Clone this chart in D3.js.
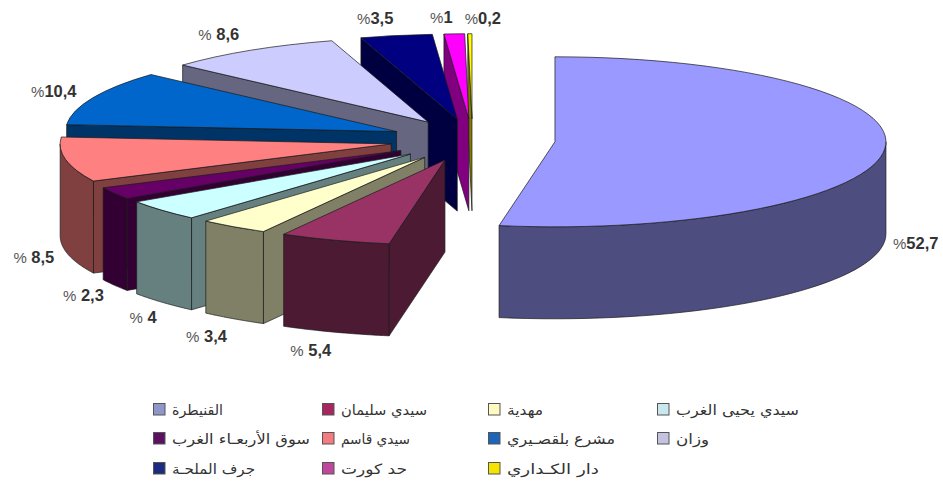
<!DOCTYPE html>
<html>
<head>
<meta charset="utf-8">
<script src="https://cdn.jsdelivr.net/npm/d3@7"></script>
<style>
  html, body { margin: 0; padding: 0; background: #fff; overflow: hidden; }
  svg { display: block; }
  .pct { font: bold 16.5px "Liberation Sans", Arial, sans-serif; fill: #333; text-anchor: middle; direction: ltr; }
  .pct .sign { font-size: 15px; font-weight: normal; fill: #555; }
  .leg { font: 14px "DejaVu Sans", "Noto Sans", sans-serif; fill: #333; text-anchor: start; }
</style>
</head>
<body>
<svg width="943" height="482"></svg>
<script>
// values, clockwise from 12 o'clock
const names = ["القنيطرة", "سيدي سليمان", "مهدية", "سيدي يحيى الغرب", "سوق الأربعـاء الغرب", "سيدي قاسم", "مشرع بلقصـيري", "وزان", "جرف الملحـة", "حد كورت", "دار الكـداري"];
const values = [52.7, 5.4, 3.4, 4, 2.3, 8.5, 10.4, 8.6, 3.5, 1, 0.2];
const labels = ["52,7", " 5,4", " 3,4", " 4", " 2,3", " 8,5", "10,4", " 8,6", "3,5", "1", "0,2"];
const colors = ["#9999ff", "#993366", "#ffffcc", "#ccffff", "#660066", "#ff8080", "#0066cc", "#ccccff", "#000080", "#ff00ff", "#ffff00"];
const legendColors = ["#8f97c9", "#a8265f", "#fffbc0", "#c8e8ee", "#5b1060", "#f47c80", "#1d65b8", "#c4c2e0", "#1c2a80", "#c0489c", "#f5e400"];

// label nudges away from the exploded rim
const nudges = [[31, 95], [-24, 111], [-27, 110], [-19, 108], [-31, 103], [-32, 98], [-39, -6], [-32, -15], [-21, -17], [-13, -16], [13, -15]];
// drawn width of each legend text
const legendWidths = [51, 86, 36, 123, 138, 69, 108, 33, 83, 66, 92];

const cx = 472.5, cy = 140;
const rx = 331, ry = 85;
const depth = 92;
const explode = 0.25;

const svg = d3.select("svg");

const pie = d3.pie().sort(null).startAngle(0).endAngle(2 * Math.PI);
const slices = pie(values);
const arc = d3.arc().innerRadius(0).outerRadius(rx);
const line = d3.line();

slices.forEach((d) => {
  d.mid = (d.startAngle + d.endAngle) / 2;
  d.ox = cx + explode * rx * Math.sin(d.mid);
  d.oy = cy - explode * ry * Math.cos(d.mid);
});

const rim = (d, a) => [d.ox + rx * Math.sin(a), d.oy - ry * Math.cos(a)];
const drop = (p) => [p[0], p[1] + depth];

function sideWall(d, a) {
  const apex = [d.ox, d.oy];
  const p = rim(d, a);
  return line([apex, p, drop(p), drop(apex)]) + "Z";
}

function outerWall(d) {
  const a0 = Math.max(d.startAngle, Math.PI / 2);
  const a1 = Math.min(d.endAngle, Math.PI * 1.5);
  if (a1 <= a0) return null;
  const pts = d3.range(0, 41).map((i) => rim(d, a0 + (a1 - a0) * i / 40));
  return line(pts.concat(pts.map(drop).reverse())) + "Z";
}

// back slices first, the last ones of the pie are behind
const g = svg.selectAll("g.slice")
  .data(slices.slice().reverse())
  .enter()
  .append("g")
  .attr("class", "slice");

g.each(function(d) {
  const el = d3.select(this);
  const dark = d3.color(colors[d.index]);
  const shade = d3.rgb(dark.r / 2, dark.g / 2, dark.b / 2).formatHex();
  const paths = [];
  if (d.startAngle > Math.PI) paths.push(sideWall(d, d.startAngle));
  if (d.endAngle < Math.PI) paths.push(sideWall(d, d.endAngle));
  const o = outerWall(d);
  if (o) paths.push(o);
  paths.forEach((p) => {
    el.append("path")
      .attr("d", p)
      .attr("fill", shade)
      .attr("stroke", "#1a1a1a")
      .attr("stroke-width", 0.7)
      .attr("stroke-linejoin", "round");
  });
  el.append("path")
    .attr("d", arc(d))
    .attr("transform", `translate(${d.ox},${d.oy}) scale(1,${ry / rx})`)
    .attr("fill", colors[d.index])
    .attr("stroke", "#1a1a1a")
    .attr("stroke-width", 0.7)
    .attr("vector-effect", "non-scaling-stroke")
    .attr("stroke-linejoin", "round");
});

// percent labels
const pct = svg.selectAll("text.pct")
  .data(slices)
  .enter()
  .append("text")
  .attr("class", "pct")
  .attr("xml:space", "preserve")
  .style("white-space", "pre")
  .attr("x", (d, i) => cx + (1 + explode) * rx * Math.sin(d.mid) + nudges[i][0])
  .attr("y", (d, i) => cy - (1 + explode) * ry * Math.cos(d.mid) + nudges[i][1] + 5);
pct.append("tspan").attr("class", "sign").text("%");
pct.append("tspan").text((d, i) => labels[i]);

// legend, filled row by row
const legendX = d3.scaleOrdinal().domain([0, 1, 2, 3]).range([153, 322, 488, 657]);
const legendY = d3.scaleOrdinal().domain([0, 1, 2]).range([409.5, 438.5, 468.5]);

const item = svg.selectAll("g.item")
  .data(names)
  .enter()
  .append("g")
  .attr("class", "item")
  .attr("transform", (d, i) => `translate(${legendX(i % 4)},${legendY(Math.floor(i / 4))})`);

item.append("rect")
  .attr("x", 0.5)
  .attr("y", -6)
  .attr("width", 11.5)
  .attr("height", 11.5)
  .attr("fill", (d, i) => legendColors[i])
  .attr("stroke", "#555")
  .attr("stroke-width", 1);

item.append("text")
  .attr("class", "leg")
  .attr("x", 19)
  .attr("y", 5)
  .attr("textLength", (d, i) => legendWidths[i])
  .attr("lengthAdjust", "spacingAndGlyphs")
  .text((d) => d);
</script>
</body>
</html>
